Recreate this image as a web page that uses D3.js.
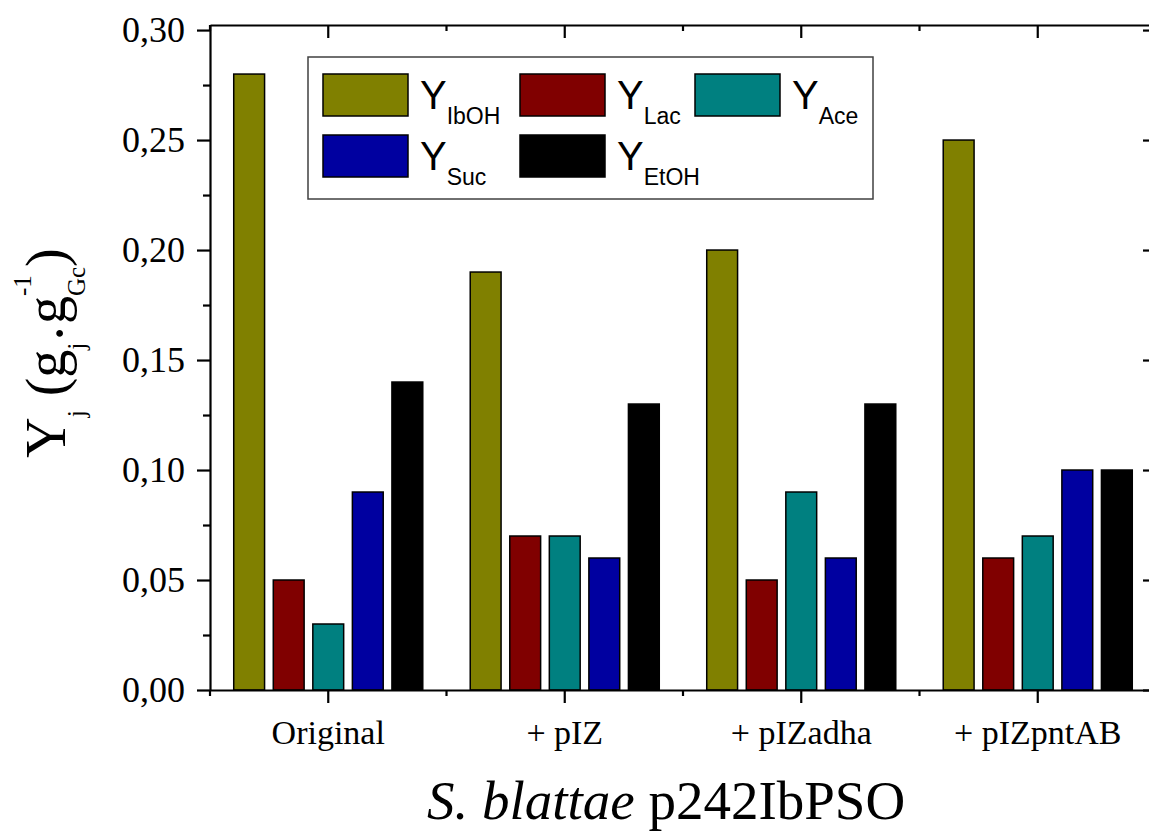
<!DOCTYPE html>
<html>
<head>
<meta charset="utf-8">
<script src="https://cdn.jsdelivr.net/npm/d3@7"></script>
<style>
body { margin: 0; background: #fff; }
svg text { font-family: "Liberation Serif", "Times New Roman", serif; fill: #000; }
.legend text { font-family: "Liberation Sans", Arial, sans-serif; }
</style>
</head>
<body>
<svg id="chart" width="1149" height="832"></svg>
<script>
// values
var categories = ["Original", "+ pIZ", "+ pIZadha", "+ pIZpntAB"];
var series = ["IbOH", "Lac", "Ace", "Suc", "EtOH"];
var yIbOH = [0.28, 0.19, 0.20, 0.25];
var yLac = [0.05, 0.07, 0.05, 0.06];
var yAce = [0.03, 0.07, 0.09, 0.07];
var ySuc = [0.09, 0.06, 0.06, 0.10];
var yEtOH = [0.14, 0.13, 0.13, 0.10];
var yTicks = [0, 0.05, 0.10, 0.15, 0.20, 0.25, 0.30];
var yTickLabels = ["0,00", "0,05", "0,10", "0,15", "0,20", "0,25", "0,30"];
var yMax = 0.3023;
var colors = ["#808000", "#800000", "#008080", "#0000a0", "#000000"];

var seriesValues = [yIbOH, yLac, yAce, ySuc, yEtOH];
var table = categories.map(function(c, i){
    return {cat: c, values: series.map(function(s, j){ return {key: s, value: seriesValues[j][i], color: colors[j]}; })};
});

var svg = d3.select("#chart");
var pLeft = 210, pRight = 1156, pTop = 25, pBottom = 690;

var x0 = d3.scaleBand().domain(categories).range([pLeft, pRight]).padding(0);
var x1 = d3.scaleBand().domain(series).range([0, x0.bandwidth()])
    .paddingInner(0.22).paddingOuter(0.6);
var y = d3.scaleLinear().domain([0, yMax]).range([pBottom, pTop]);

var minorY = d3.range(0.025, 0.3, 0.05);
var bounds = categories.map(function(c){ return x0(c); }).concat([pRight]);

// bars
var groups = svg.append("g").selectAll("g")
    .data(table).enter().append("g")
    .attr("transform", function(d){ return "translate(" + x0(d.cat) + ",0)"; });

groups.selectAll("rect")
    .data(function(d){ return d.values; })
    .enter().append("rect")
    .attr("x", function(d){ return x1(d.key); })
    .attr("y", function(d){ return y(d.value); })
    .attr("width", x1.bandwidth())
    .attr("height", function(d){ return y(0) - y(d.value); })
    .attr("fill", function(d){ return d.color; })
    .attr("stroke", "#000")
    .attr("stroke-width", 1.5);

// axes
function styleAxis(g){
    g.selectAll("path.domain").attr("stroke", "#000").attr("stroke-width", 2.2);
    g.selectAll(".tick line").attr("stroke", "#000").attr("stroke-width", 2.2);
}

svg.append("g")
    .attr("transform", "translate(" + pLeft + ",0)")
    .call(d3.axisLeft(y).tickValues(yTicks)
	  .tickFormat(function(d, i){ return yTickLabels[i]; })
	  .tickSize(13).tickSizeOuter(0).tickPadding(12))
    .call(styleAxis)
    .selectAll("text").attr("font-size", "36px").attr("font-family", "Liberation Serif");

svg.append("g")
    .attr("transform", "translate(" + pLeft + ",0)")
    .call(d3.axisLeft(y).tickValues(minorY).tickFormat("").tickSize(7))
    .call(styleAxis)
    .select(".domain").remove();

svg.append("g")
    .attr("transform", "translate(" + pRight + ",0)")
    .call(d3.axisRight(y).tickValues(yTicks).tickFormat("").tickSize(-13).tickSizeOuter(0))
    .call(styleAxis);

svg.append("g")
    .attr("transform", "translate(" + pRight + ",0)")
    .call(d3.axisRight(y).tickValues(minorY).tickFormat("").tickSize(-7))
    .call(styleAxis)
    .select(".domain").remove();

svg.append("g")
    .attr("transform", "translate(0," + pBottom + ")")
    .call(d3.axisBottom(x0).tickSize(13).tickSizeOuter(0).tickPadding(17))
    .call(styleAxis)
    .selectAll("text").attr("font-size", "34px").attr("font-family", "Liberation Serif");

svg.append("g")
    .attr("transform", "translate(0," + pTop + ")")
    .call(d3.axisTop(x0).tickFormat("").tickSize(-13).tickSizeOuter(0))
    .call(styleAxis);

// minor ticks on the category boundaries
svg.append("g").selectAll("line")
    .data(bounds).enter().append("line")
    .attr("x1", function(d){ return d; }).attr("x2", function(d){ return d; })
    .attr("y1", pBottom).attr("y2", pBottom + 6)
    .attr("stroke", "#000").attr("stroke-width", 2.2);

svg.append("g").selectAll("line")
    .data(bounds).enter().append("line")
    .attr("x1", function(d){ return d; }).attr("x2", function(d){ return d; })
    .attr("y1", pTop).attr("y2", pTop + 6)
    .attr("stroke", "#000").attr("stroke-width", 2.2);

// y title
var yTitle = svg.append("text")
    .attr("transform", "translate(65,353) rotate(-90)")
    .attr("text-anchor", "middle")
    .attr("font-size", "56px");
yTitle.append("tspan").text("Y");
yTitle.append("tspan").attr("font-size", "25px").attr("dy", 20).text("j");
yTitle.append("tspan").attr("dy", -20).text(" (g");
yTitle.append("tspan").attr("font-size", "25px").attr("dy", 20).text("j");
yTitle.append("tspan").attr("dy", -6).text("·");
yTitle.append("tspan").attr("dy", -14).text("g");
var gc = yTitle.append("tspan").attr("font-size", "25px").attr("dy", 20).text("Gc");
var sup = yTitle.append("tspan").attr("font-size", "25px").attr("dy", -54).text("-1");
var gcLen = gc.node().getComputedTextLength();
var supLen = sup.node().getComputedTextLength();
sup.attr("dx", -gcLen);
yTitle.append("tspan").attr("dy", 34).attr("dx", gcLen - supLen).text(")");

// x title
var xTitle = svg.append("text")
    .attr("x", 666).attr("y", 819)
    .attr("text-anchor", "middle")
    .attr("font-size", "55px");
xTitle.append("tspan").attr("font-style", "italic").text("S. blattae");
xTitle.append("tspan").text(" p242IbPSO");

// legend
var legend = svg.append("g").attr("class", "legend");
legend.append("rect")
    .attr("x", 308).attr("y", 57).attr("width", 565).attr("height", 142)
    .attr("fill", "#fff").attr("stroke", "#404040").attr("stroke-width", 1.5);

var colX = [323, 520, 695], rowY = [74, 135];
var items = legend.selectAll("g.item")
    .data(series).enter().append("g")
    .attr("class", "item")
    .attr("transform", function(d, i){ return "translate(" + colX[i % 3] + "," + rowY[Math.floor(i / 3)] + ")"; });

items.append("rect")
    .attr("width", 85).attr("height", 42)
    .attr("fill", function(d, i){ return colors[i]; })
    .attr("stroke", "#000").attr("stroke-width", 1.5);

var lbl = items.append("text")
    .attr("x", 97).attr("y", 35)
    .attr("font-size", "40px");
lbl.append("tspan").text("Y");
lbl.append("tspan").attr("font-size", "23px").attr("dy", 15).text(function(d){ return d; });
</script>
</body>
</html>
